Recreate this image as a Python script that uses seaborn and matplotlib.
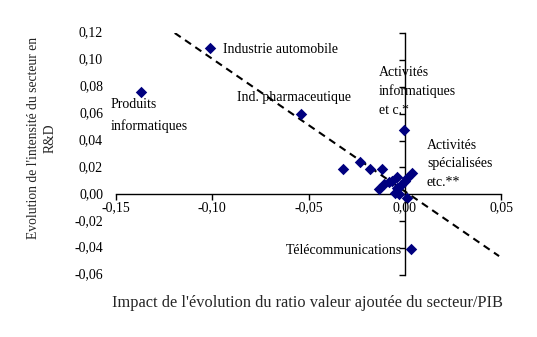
import numpy as np
import pandas as pd
import matplotlib
matplotlib.use("Agg")
import matplotlib.pyplot as plt
import matplotlib.transforms as mtransforms
import seaborn as sns

# ---- data ----
impact = [-0.101, -0.137, -0.054, 0.003, -0.0005, 0.004,
          -0.032, -0.023, -0.018, -0.012, -0.0135, -0.011, -0.008, -0.0065,
          -0.004, 0.000, 0.001, -0.004, -0.002, -0.005, -0.003, 0.001]
intensite = [0.109, 0.076, 0.060, -0.041, 0.048, 0.016,
             0.019, 0.024, 0.019, 0.019, 0.004, 0.008, 0.009, 0.010,
             0.013, 0.010, 0.012, 0.005, 0.007, 0.001, 0.000, -0.003]

labels = ["Industrie automobile", "Produits\ninformatiques", "Ind. pharmaceutique",
          "Télécommunications", "Activités\ninformatiques\net c.*", "Activités\nspécialisées\netc.**"]
label_pos_x = [-0.0945, -0.153, -0.087, -0.0015, -0.0135, 0.0115]
label_pos_y = [0.1075, 0.0586, 0.072, -0.0415, 0.0766, 0.0228]
label_ha = ["left", "left", "left", "right", "left", "left"]
label_spacing = [1.2, 1.8, 1.2, 1.2, 1.55, 1.55]

trend_slope = -0.985
trend_intercept = 0.0023
trend_x = [-0.1195, 0.049]

x_ticks = [-0.15, -0.10, -0.05, 0.00, 0.05]
y_ticks = [-0.06, -0.04, -0.02, 0.00, 0.02, 0.04, 0.06, 0.08, 0.10, 0.12]

df = pd.DataFrame({"impact": impact, "intensite": intensite})

sns.set_theme(style="white")
plt.rcParams["font.family"] = ["Liberation Serif", "DejaVu Serif"]
FS = 10

fig = plt.figure(figsize=(5.37, 3.37), dpi=100)
ax = fig.add_axes([116 / 537, 1 - 275 / 337, (501 - 116) / 537, (275 - 33) / 337])

tx = np.array(trend_x)
ax.plot(tx, trend_intercept + trend_slope * tx, color="black", lw=1.5,
        linestyle=(0, (3.5, 2.5)), zorder=2)

sns.scatterplot(data=df, x="impact", y="intensite", ax=ax, marker="D", s=34,
                color="#00007F", edgecolor="#00007F", linewidth=0, zorder=3)

ax.set_xlim(-0.15, 0.05)
ax.set_ylim(-0.06, 0.12)

for s in ["top", "right"]:
    ax.spines[s].set_visible(False)
ax.spines["left"].set_position(("data", 0))
ax.spines["bottom"].set_position(("data", 0))
for s in ["left", "bottom"]:
    ax.spines[s].set_color("black")
    ax.spines[s].set_linewidth(1.0)

ax.set_xticks(x_ticks)
ax.set_yticks(y_ticks)
ax.set_xticklabels([])
ax.set_yticklabels([])
ax.tick_params(axis="both", direction="out", length=4, width=1, color="black",
               left=True, bottom=True)
ax.set_xlabel("")
ax.set_ylabel("")

# tick labels, Excel-like placement
ytrans = mtransforms.blended_transform_factory(ax.transAxes, ax.transData)
off = mtransforms.ScaledTranslation(-13 / 100, 0, fig.dpi_scale_trans)
for v in y_ticks:
    ax.text(0, v, f"{v:.2f}".replace(".", ","), transform=ytrans + off,
            ha="right", va="center", fontsize=FS, color="black")
xoff = mtransforms.ScaledTranslation(0, -7 / 100, fig.dpi_scale_trans)
for v in x_ticks:
    ax.text(v, 0, f"{v:.2f}".replace(".", ","), transform=ax.transData + xoff,
            ha="center", va="top", fontsize=FS, color="black")

# point annotations
for t, lx, ly, ha, ls in zip(labels, label_pos_x, label_pos_y, label_ha, label_spacing):
    ax.text(lx, ly, t, ha=ha, va="center", fontsize=FS, color="black",
            linespacing=ls, zorder=4)

fig.text(307 / 537, 1 - 303 / 337,
         "Impact de l'évolution du ratio valeur ajoutée du secteur/PIB",
         ha="center", va="center", fontsize=11.8)
fig.text(42 / 537, 1 - 138 / 337, "Evolution de l'intensité du secteur en\nR&D",
         ha="center", va="center", rotation=90, fontsize=9.8, linespacing=1.3)

fig.savefig("out.png", dpi=100)
